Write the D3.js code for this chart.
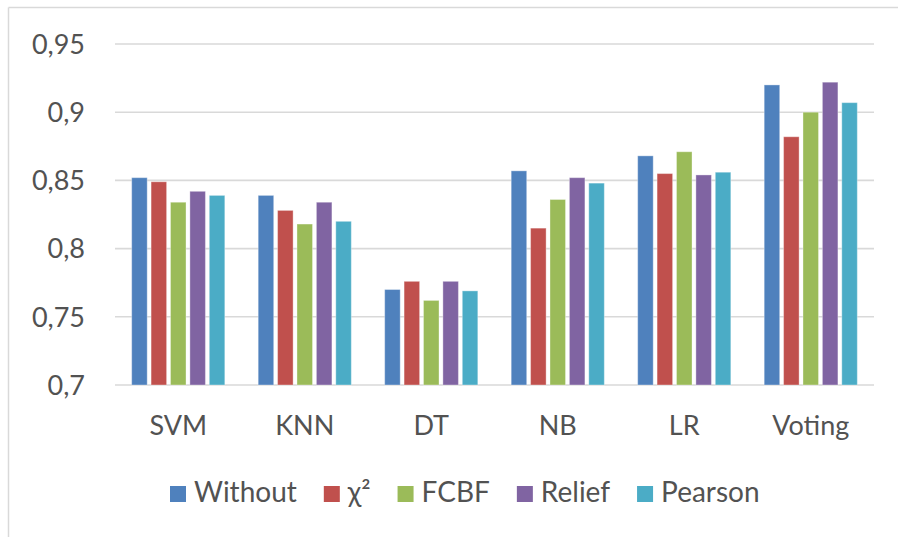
<!DOCTYPE html>
<html>
<head>
<meta charset="utf-8">
<script src="https://cdn.jsdelivr.net/npm/d3@7"></script>
<style>
  body { margin: 0; background: #fff; }
  text { font-family: Lato, 'Open Sans', sans-serif; fill: #525252; }
</style>
</head>
<body>
<div id="viz"></div>
<script>
var width = 898,
    height = 537;

// data
var categories = ['SVM', 'KNN', 'DT', 'NB', 'LR', 'Voting'];
var series = ['Without', 'χ²', 'FCBF', 'Relief', 'Pearson'];
var colors = ['#4f81bd', '#c0504d', '#9bbb59', '#8064a2', '#4bacc6'];
var without = [0.852, 0.839, 0.770, 0.857, 0.868, 0.920];
var chi2    = [0.849, 0.828, 0.776, 0.815, 0.855, 0.882];
var fcbf    = [0.834, 0.818, 0.762, 0.836, 0.871, 0.900];
var relief  = [0.842, 0.834, 0.776, 0.852, 0.854, 0.922];
var pearson = [0.839, 0.820, 0.769, 0.848, 0.856, 0.907];
var yTicks = [0.7, 0.75, 0.8, 0.85, 0.9, 0.95];

var values = [without, chi2, fcbf, relief, pearson];

var svg = d3.select('#viz')
  .append('svg')
  .attr('width', width)
  .attr('height', height)
  .style('display', 'block');

//marco del grafico
svg.append('line')
  .attr('x1', 8.5).attr('y1', 7.5).attr('x2', width).attr('y2', 7.5)
  .attr('stroke', '#d9d9d9').attr('stroke-width', 1.5);
svg.append('line')
  .attr('x1', 8.5).attr('y1', 7.5).attr('x2', 8.5).attr('y2', height)
  .attr('stroke', '#d9d9d9').attr('stroke-width', 1.5);

var left = 115, right = 874;

var y = d3.scaleLinear()
  .domain([0.7, 0.95])
  .range([385, 44]);

var x0 = d3.scaleBand()
  .domain(categories)
  .range([left, right])
  .padding(0);

var x1 = d3.scaleBand()
  .domain(series)
  .range([0, x0.bandwidth()])
  .paddingInner(0.2)
  .paddingOuter(0.86);

//grid
svg.append('g').selectAll('line')
  .data(yTicks)
  .enter().append('line')
  .attr('x1', left)
  .attr('x2', right)
  .attr('y1', function(d) { return y(d); })
  .attr('y2', function(d) { return y(d); })
  .attr('stroke', '#d9d9d9')
  .attr('stroke-width', 1.6);

//etiquetas eje y
svg.append('g').selectAll('text')
  .data(yTicks)
  .enter().append('text')
  .attr('x', 85)
  .attr('y', function(d) { return y(d); })
  .attr('dy', '0.36em')
  .attr('text-anchor', 'end')
  .style('font-size', '27px')
  .text(function(d) { return String(d).replace('.', ','); });

//barras
var groups = svg.append('g').selectAll('g')
  .data(categories)
  .enter().append('g')
  .attr('transform', function(d) { return 'translate(' + x0(d) + ',0)'; });

groups.selectAll('rect')
  .data(function(c, i) {
    return series.map(function(s, j) { return { s: s, j: j, v: values[j][i] }; });
  })
  .enter().append('rect')
  .attr('x', function(d) { return x1(d.s); })
  .attr('width', x1.bandwidth())
  .attr('y', function(d) { return y(d.v); })
  .attr('height', function(d) { return y(0.7) - y(d.v); })
  .style('fill', function(d) { return colors[d.j]; })
  .attr('stroke', 'rgba(255,255,255,0.35)')
  .attr('stroke-width', 1);

//etiquetas categorias
svg.append('g').selectAll('text')
  .data(categories)
  .enter().append('text')
  .attr('x', function(d) { return x0(d) + x0.bandwidth() / 2; })
  .attr('y', 435)
  .attr('text-anchor', 'middle')
  .style('font-size', '27px')
  .text(function(d) { return d; });

//leyenda
var legend = svg.append('g');
var lx = 170;
series.forEach(function(s, j) {
  legend.append('rect')
    .attr('x', lx).attr('y', 486)
    .attr('width', 16).attr('height', 16)
    .style('fill', colors[j]);
  var t = legend.append('text')
    .attr('x', lx + 24)
    .attr('y', 502)
    .style('font-size', '28px')
    .text(s);
  lx = lx + 24 + t.node().getComputedTextLength() + 27;
});
</script>
</body>
</html>
